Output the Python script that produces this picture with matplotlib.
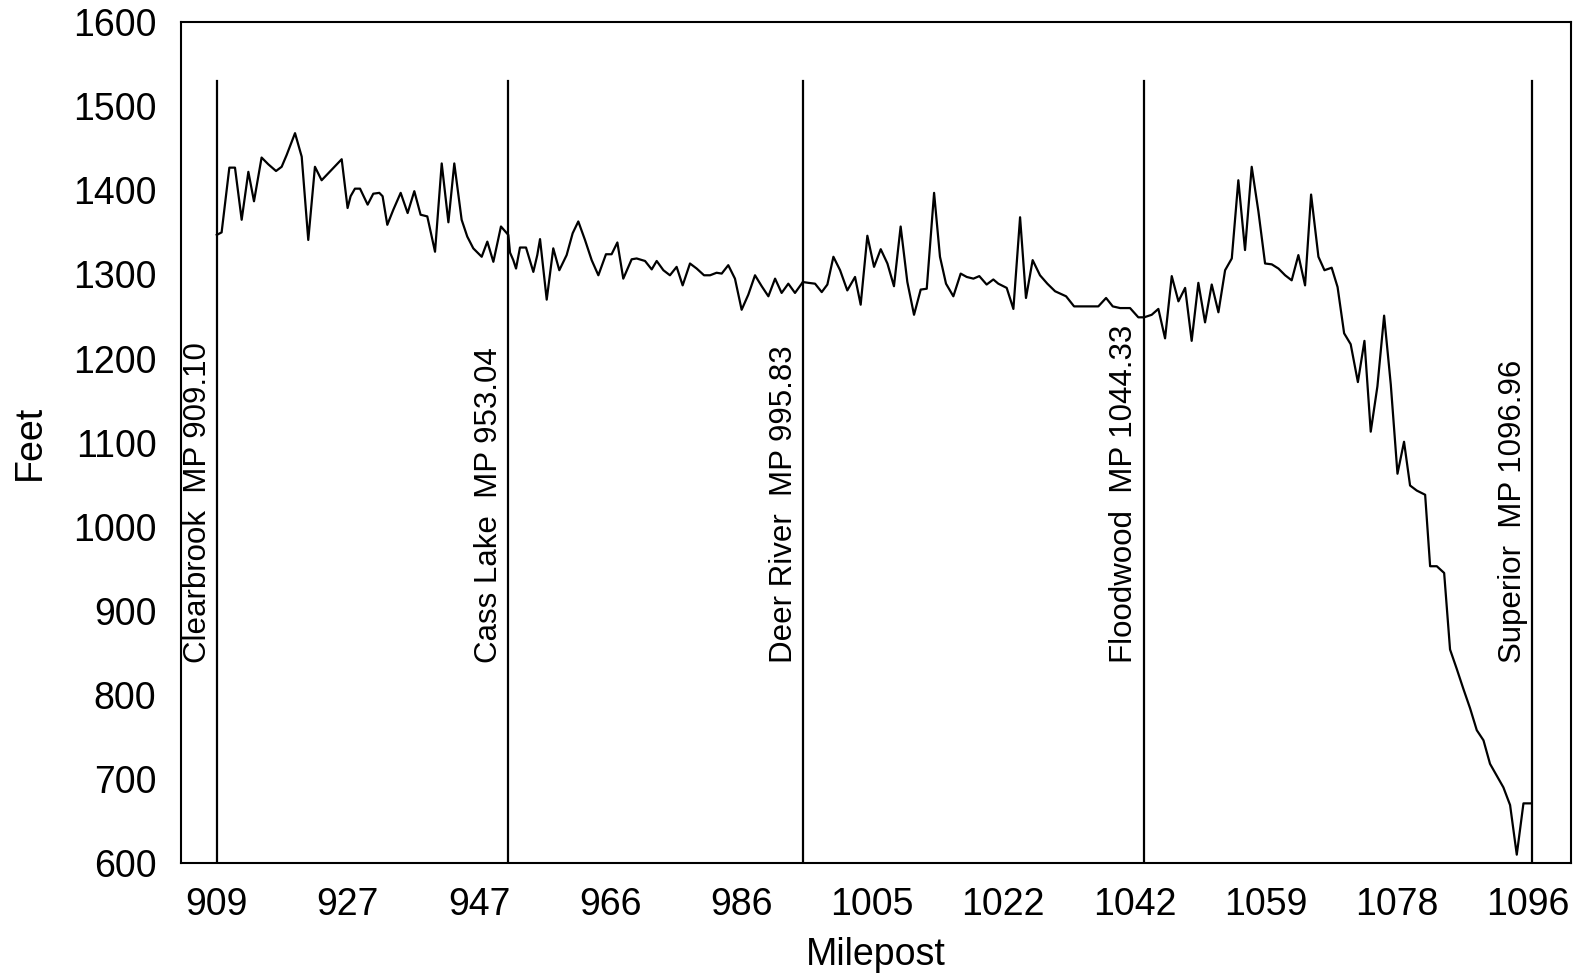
import matplotlib
matplotlib.use('Agg')
import numpy as np
import matplotlib.pyplot as plt

# position along the profile (tick spacing = 10 units), elevation in feet
pos = [0.0, 0.37, 0.96, 1.39, 1.90, 2.41, 2.84, 3.42, 3.93, 4.52, 4.95, 5.33, 5.97,
       6.48, 6.98, 7.49, 8.00, 9.53, 9.98, 10.21, 10.54, 10.93, 11.51, 11.94, 12.40,
       12.65, 13.01, 13.47, 14.03, 14.56, 15.07, 15.55, 16.06, 16.65, 17.16, 17.67,
       18.12, 18.68, 19.11, 19.57, 20.21, 20.64, 21.10, 21.68, 22.24,
       22.37, 22.62, 22.83, 23.13, 23.59, 24.15, 24.45, 24.66, 25.17, 25.67, 26.13,
       26.69, 27.15, 27.58, 28.09, 28.60, 29.11, 29.69, 30.12, 30.56, 31.01, 31.65,
       32.03, 32.67, 33.18, 33.56, 34.07, 34.57, 35.08, 35.54, 36.10, 36.61, 37.17,
       37.63, 38.13, 38.52, 39.02, 39.53, 40.04, 40.55, 41.06, 41.57, 42.08, 42.59,
       43.09, 43.60, 44.11, 44.62,
       44.70, 45.13, 45.64, 46.15, 46.58, 47.04, 47.55, 48.10, 48.69, 49.12, 49.63,
       50.14, 50.65, 51.16, 51.66, 52.17, 52.68, 53.19, 53.70, 54.16, 54.72, 55.17,
       55.63, 56.19, 56.75, 57.21, 57.72, 58.17, 58.73, 59.24, 59.62, 60.26, 60.77,
       61.28, 61.73, 62.24, 62.80, 63.36, 63.95, 64.79, 65.40, 65.85, 67.25, 67.84,
       68.35, 68.91, 69.67, 70.30, 70.74,
       71.32, 71.83, 72.34, 72.85, 73.36, 73.87, 74.37, 74.88, 75.39, 75.90, 76.41,
       76.92, 77.43, 77.93, 78.44, 78.95, 79.46, 79.97, 80.48, 80.99, 81.50, 82.00,
       82.51, 83.02, 83.48, 84.04, 84.50, 85.05, 85.50, 86.00, 86.50, 87.05, 87.55,
       88.03, 88.54, 89.05, 89.56, 90.07, 90.57, 91.03, 91.54, 92.18, 92.56, 93.07,
       93.63, 94.08, 94.59, 95.10, 95.61, 96.12, 96.63, 97.13, 97.64, 98.15, 98.66,
       99.17, 99.68, 100.31]

feet = [1347, 1350, 1427, 1427, 1365, 1422, 1387, 1439, 1431, 1423, 1428, 1442, 1468,
        1440, 1341, 1428, 1412, 1437, 1379, 1393, 1402, 1402, 1383, 1396, 1397,
        1393, 1359, 1377, 1397, 1373, 1399, 1371, 1369, 1327, 1432, 1362,
        1432, 1365, 1345, 1331, 1321, 1339, 1315, 1357, 1347,
        1326, 1317, 1307, 1332, 1332, 1303, 1323, 1342, 1270, 1331, 1305,
        1323, 1349, 1363, 1341, 1317, 1299, 1324, 1324, 1338, 1295, 1318,
        1319, 1316, 1306, 1316, 1305, 1299, 1309, 1287, 1313, 1307, 1299,
        1299, 1302, 1301, 1311, 1295, 1258, 1276, 1299, 1286, 1274, 1295,
        1278, 1289, 1278, 1289,
        1291, 1290, 1289, 1279, 1288, 1321, 1305, 1281, 1297, 1264, 1346,
        1309, 1330, 1313, 1286, 1357, 1291, 1252, 1282, 1283, 1397, 1321,
        1289, 1274, 1301, 1297, 1295, 1298, 1288, 1294, 1289, 1284, 1259,
        1368, 1272, 1317, 1299, 1289, 1280, 1274, 1262, 1262, 1262, 1272,
        1262, 1260, 1260, 1249, 1249,
        1252, 1259, 1224, 1298, 1268, 1284, 1221, 1290, 1243, 1288, 1255,
        1305, 1319, 1412, 1329, 1428, 1375, 1313, 1312, 1307, 1299, 1293,
        1323, 1287, 1395, 1321, 1305, 1308, 1285, 1230, 1217, 1172, 1221,
        1113, 1167, 1251, 1169, 1063, 1101, 1049, 1043, 1038, 953, 953,
        945, 854, 831, 807, 784, 758, 746, 718, 704, 690, 669,
        610, 671, 671]

tick_labels = ['909', '927', '947', '966', '986', '1005', '1022', '1042', '1059', '1078', '1096']

stations = ['Clearbrook  MP 909.10', 'Cass Lake  MP 953.04', 'Deer River  MP 995.83',
            'Floodwood  MP 1044.33', 'Superior  MP 1096.96']
station_pos = [0.0, 22.24, 44.70, 70.70, 100.33]

plt.rcParams['font.family'] = ['Liberation Sans', 'DejaVu Sans']

fig = plt.figure(figsize=(15.81, 9.76), dpi=100)
ax = fig.add_axes([0.1148, 0.1157, 0.8789, 0.8616])

ax.plot(pos, feet, 'k-', lw=1.6)

for p, name in zip(station_pos, stations):
    ax.plot([p, p], [600, 1530], 'k-', lw=1.6)
    ax.annotate(name, xy=(p, 838), xytext=(-3, 0), textcoords='offset points',
                rotation=90, ha='right', va='bottom', fontsize=22.5)

ax.set_xlim(-2.69, 103.31)
ax.set_ylim(600, 1600)
ax.set_xticks(np.arange(0, 101, 10))
ax.set_xticklabels(tick_labels)
ax.set_yticks(np.arange(600, 1601, 100))
ax.tick_params(length=0, labelsize=27)
ax.tick_params(axis='x', pad=17)
ax.tick_params(axis='y', pad=18)
for s in ax.spines.values():
    s.set_linewidth(1.5)

ax.set_xlabel('Milepost', fontsize=27, labelpad=10)
ax.set_ylabel('Feet', fontsize=27, labelpad=18)

fig.savefig('out.png', dpi=100)
